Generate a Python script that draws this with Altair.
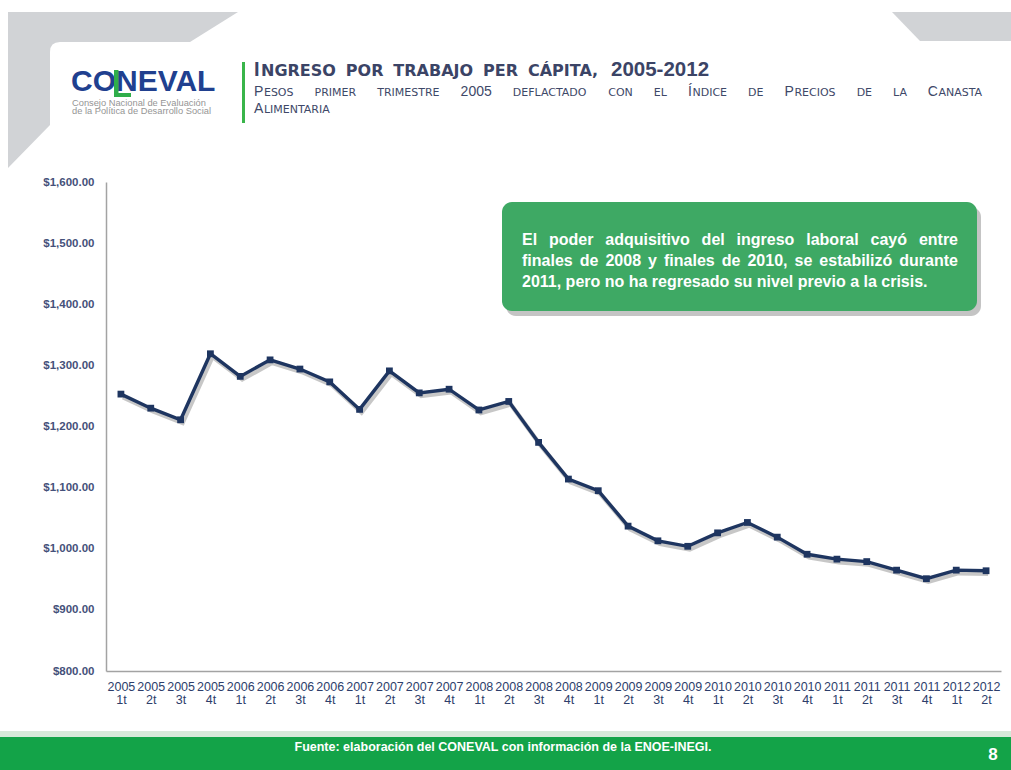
import altair as alt
import pandas as pd

# ---------------- data ----------------
periodos = ["2005 1t", "2005 2t", "2005 3t", "2005 4t",
            "2006 1t", "2006 2t", "2006 3t", "2006 4t",
            "2007 1t", "2007 2t", "2007 3t", "2007 4t",
            "2008 1t", "2008 2t", "2008 3t", "2008 4t",
            "2009 1t", "2009 2t", "2009 3t", "2009 4t",
            "2010 1t", "2010 2t", "2010 3t", "2010 4t",
            "2011 1t", "2011 2t", "2011 3t", "2011 4t",
            "2012 1t", "2012 2t"]
ingreso = [1253, 1230, 1211, 1319, 1282, 1309, 1294, 1273,
           1228, 1291, 1255, 1261, 1227, 1241, 1174, 1114,
           1095, 1037, 1013, 1004, 1026, 1043, 1019, 991,
           983, 979, 965, 951, 965, 964]
y_ticks = [800, 900, 1000, 1100, 1200, 1300, 1400, 1500, 1600]

titulo_palabras = ["NGRESO", "POR", "TRABAJO", "PER", "CÁPITA,"]
nota_lineas = ["El poder adquisitivo del ingreso laboral cayó entre",
               "finales de 2008 y finales de 2010, se estabilizó durante",
               "2011, pero no ha regresado su nivel previo a la crisis."]
fuente = "Fuente: elaboración del CONEVAL con información de la ENOE-INEGI."

df = pd.DataFrame({"periodo": periodos, "ingreso": ingreso})

# ---------------- layout helpers ----------------
OX, OY = 106, 182          # plot origin on the page
PW, PH = 895, 489          # plot size
one = pd.DataFrame({"k": [0]})

ARIAL = {" ": .278, ",": .278, ".": .278, "-": .333, ":": .278}
for d in "0123456789":
    ARIAL[d] = .556
ARIAL.update({"P": .667, "Í": .278, "C": .722, "A": .667})
ARIAL_B = {" ": .278, ",": .278, ".": .278, "-": .333}
for d in "0123456789":
    ARIAL_B[d] = .556
ARIAL_B.update({"a": .556, "b": .611, "c": .556, "d": .611, "e": .556, "f": .333, "g": .611,
                "h": .611, "i": .278, "j": .278, "k": .556, "l": .278, "m": .889, "n": .611,
                "o": .611, "p": .611, "q": .611, "r": .389, "s": .556, "t": .333, "u": .611,
                "v": .556, "w": .778, "x": .556, "y": .556, "z": .5, "á": .556, "é": .556,
                "í": .278, "ó": .611, "ú": .611, "E": .667})
DJV = {"A": .684, "C": .698, "D": .770, "E": .632, "F": .575, "I": .295, "L": .557,
       "M": .863, "N": .748, "O": .787, "P": .603, "R": .695, "S": .635, "T": .611, " ": .318}
DJV_B = {"A": .774, "B": .762, "C": .734, "E": .683, "G": .821, "I": .372, "J": .372,
         "N": .837, "O": .850, "P": .733, "R": .770, "S": .720, "T": .682, "Á": .774,
         ",": .380, " ": .348}


def tw(s, tbl, size):
    return sum(tbl.get(c, .6) for c in s) * size


layers = []


def txt(x, y, s, size, color, font="Liberation Sans", weight="normal", align="left"):
    layers.append(alt.Chart(one).mark_text(
        text=s, font=font, fontSize=size, fontWeight=weight, color=color,
        align=align, baseline="alphabetic"
    ).encode(x=alt.value(x - OX), y=alt.value(y - OY)))


def rect(x1, y1, x2, y2, color, opacity=1.0, radius=0):
    kw = dict(color=color, opacity=opacity)
    if radius:
        kw["cornerRadius"] = radius
    layers.append(alt.Chart(one).mark_rect(**kw).encode(
        x=alt.value(x1 - OX), x2=alt.value(x2 - OX),
        y=alt.value(y1 - OY), y2=alt.value(y2 - OY)))


def poly(path, color):
    layers.append(alt.Chart(one).mark_point(
        shape=path, size=4, filled=True, color=color, opacity=1, strokeWidth=0
    ).encode(x=alt.value(-OX), y=alt.value(-OY)))


# ---------------- page decoration ----------------
GRAY = "#d1d3d6"
poly("M8,12 L238,12 L190,42 L60,42 Q50,42 50,52 L50,125 L8,168 Z", GRAY)
poly("M892,12 L1011,12 L1011,41 L920,41 Z", GRAY)

# footer
rect(0, 731, 1011, 737, "#d6e9d9")
rect(0, 737, 1011, 770, "#13a348")
txt(503, 751, fuente, 12.5, "white", weight="bold", align="center")
txt(993, 760, "8", 17, "white", weight="bold", align="center")

# logo
txt(71, 91, "CONEVAL", 30, "#20408f", weight="bold")
rect(114, 70, 118.5, 97, "#2fae4a")
rect(114, 93, 131, 97, "#2fae4a")
txt(72, 105.5, "Consejo Nacional de Evaluación", 9.3, "#959595")
txt(72, 114, "de la Política de Desarrollo Social", 9.3, "#959595")
rect(242, 62, 245, 123, "#39b54a")

# title (small caps imitation)
TCOL = "#3b4466"
txt(254, 76, "I", 20, TCOL, weight="bold")
t_x0, t_x1 = 261, 609
t_sz = 16
t_w = [tw(w_, DJV_B, t_sz) for w_ in titulo_palabras]
t_gap = (t_x1 - t_x0 - sum(t_w)) / len(titulo_palabras)
xx = t_x0
for w_, ww in zip(titulo_palabras, t_w):
    txt(xx, 76, w_, t_sz, TCOL, font="DejaVu Sans", weight="bold")
    xx += ww + t_gap
txt(611, 76, "2005-2012", 20.5, TCOL, weight="bold")

# subtitle (small caps, justified)
SCOL = "#3e4868"
styles = {"big": ("Liberation Sans", 14, ARIAL),
          "small": ("DejaVu Sans", 11, DJV),
          "num": ("Liberation Sans", 14, ARIAL)}
sub_words = [[("P", "big"), ("ESOS", "small")], [("PRIMER", "small")],
             [("TRIMESTRE", "small")], [("2005", "num")], [("DEFLACTADO", "small")],
             [("CON", "small")], [("EL", "small")], [("Í", "big"), ("NDICE", "small")],
             [("DE", "small")], [("P", "big"), ("RECIOS", "small")], [("DE", "small")],
             [("LA", "small")], [("C", "big"), ("ANASTA", "small")]]


def run_w(run):
    f, s, tb = styles[run[1]]
    return tw(run[0], tb, s)


word_w = [sum(run_w(r) + (0.6 if r[1] == "big" else 0) for r in wd) for wd in sub_words]
gap = (983 - 254 - sum(word_w)) / (len(sub_words) - 1)
xx = 254
for wd, ww in zip(sub_words, word_w):
    rx = xx
    for r in wd:
        f, s, tb = styles[r[1]]
        txt(rx, 96, r[0], s, SCOL, font=f)
        rx += run_w(r) + (0.6 if r[1] == "big" else 0)
    xx += ww + gap
txt(254, 113, "A", 14, SCOL)
txt(254 + tw("A", ARIAL, 14) + 0.6, 113, "LIMENTARIA", 11, SCOL, font="DejaVu Sans")

# ---------------- main chart ----------------
NAVY = "#1e3560"
x_enc = alt.X("periodo:N", sort=periodos,
              axis=alt.Axis(title=None, labelExpr="split(datum.label, ' ')", labelAngle=0,
                            ticks=False, grid=False, domainColor="#a3a3a3", domainWidth=1.5,
                            labelFont="Liberation Sans", labelFontSize=12.5, labelColor="#2d3e6b",
                            labelPadding=9, labelLineHeight=13, labelOverlap=False,
                            labelBaseline="top"))
y_enc = alt.Y("ingreso:Q", scale=alt.Scale(domain=[800, 1600], nice=False, zero=False),
              axis=alt.Axis(title=None, values=y_ticks, format="$,.2f", grid=False, ticks=False,
                            domainColor="#a3a3a3", domainWidth=1.5, labelFont="Liberation Sans",
                            labelFontSize=11.5, labelFontWeight="bold", labelColor="#45517a",
                            labelPadding=12))

base = alt.Chart(df).encode(x=x_enc, y=y_enc)
shadow = base.mark_line(color="black", opacity=0.22, strokeWidth=4.5, xOffset=2, yOffset=3)
line = base.mark_line(color=NAVY, strokeWidth=3.4)
pts = base.mark_point(shape="square", size=46, filled=True, color=NAVY, opacity=1)

# ---------------- annotation box ----------------
BOX = (502, 202, 977, 311)
ann = []


def ann_rect(x1, y1, x2, y2, color, opacity=1.0):
    ann.append(alt.Chart(one).mark_rect(color=color, opacity=opacity, cornerRadius=10).encode(
        x=alt.value(x1 - OX), x2=alt.value(x2 - OX),
        y=alt.value(y1 - OY), y2=alt.value(y2 - OY)))


ann_rect(BOX[0] + 4, BOX[1] + 5, BOX[2] + 4, BOX[3] + 5, "#7d7d7d", 0.45)
ann_rect(*BOX, "#3ea964")

A_SZ = 16
A_X0, A_X1 = 522, 958
baselines = [245, 266, 287]
main_layers = list(layers)
layers.clear()
for i, (ln, by) in enumerate(zip(nota_lineas, baselines)):
    words = ln.split(" ")
    if i < 2:
        ws = [tw(w_, ARIAL_B, A_SZ) for w_ in words]
        g = (A_X1 - A_X0 - sum(ws)) / (len(words) - 1)
        xx = A_X0
        for w_, ww in zip(words, ws):
            txt(xx, by, w_, A_SZ, "white", weight="bold")
            xx += ww + g
    else:
        txt(A_X0, by, ln, A_SZ, "white", weight="bold")
ann_text = list(layers)

chart = alt.layer(
    *main_layers, shadow, line, pts, *ann, *ann_text
).properties(
    width=PW, height=PH,
    padding={"left": OX, "top": OY, "right": 1011 - OX - PW, "bottom": 770 - OY - PH},
    autosize=alt.AutoSizeParams(type="none"),
    background="white",
).configure_view(strokeWidth=0)

chart.save("out.html", embed_options={"renderer": "svg", "actions": False})
